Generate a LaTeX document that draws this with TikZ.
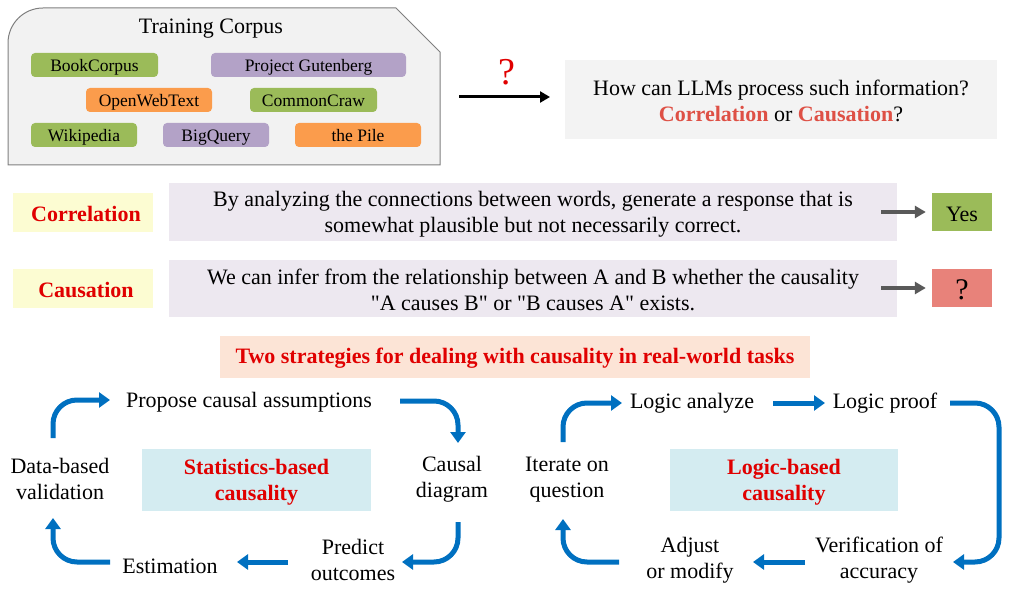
\documentclass[tikz,border=0pt]{standalone}
\usepackage{fontspec}
\setmainfont{Liberation Serif}[Ligatures=TeXOff]
\usetikzlibrary{arrows.meta,calc}
\definecolor{corpusfill}{HTML}{F2F2F2}
\definecolor{corpusdraw}{HTML}{7F7F7F}
\definecolor{cgreen}{HTML}{9BBB59}
\definecolor{cpurple}{HTML}{B3A2C7}
\definecolor{corange}{HTML}{FB9C4C}
\definecolor{qfill}{HTML}{F3F3F3}
\definecolor{qred}{HTML}{DE5045}
\definecolor{lred}{HTML}{E00000}
\definecolor{cyellow}{HTML}{FCFCD2}
\definecolor{clav}{HTML}{EDE8F0}
\definecolor{darrow}{HTML}{595959}
\definecolor{cpink}{HTML}{E8827A}
\definecolor{cpeach}{HTML}{FCE4D6}
\definecolor{ccyan}{HTML}{D4ECF1}
\definecolor{cblue}{HTML}{0070C0}
\begin{document}
\begin{tikzpicture}[x=1pt,y=-1pt,
  txt/.style={font=\fontsize{22}{26}\selectfont, align=center, inner sep=0pt},
  boldred/.style={txt, text=lred, font=\fontsize{22}{26}\selectfont\bfseries},
  chip/.style={rounded corners=4pt, inner sep=0pt, minimum height=24pt, text height=13pt, text depth=0pt, font=\fontsize{17.5}{20}\selectfont},
  flatbox/.style={inner sep=0pt, align=center, font=\fontsize{22}{26}\selectfont},
  redlabel/.style={flatbox, fill=cyellow, minimum width=140pt, minimum height=39pt},
  lavbox/.style={flatbox, fill=clav, minimum width=728pt, minimum height=57pt},
  ansbox/.style={flatbox, minimum width=60pt, minimum height=38pt},
  grayarrow/.style={draw=darrow, line width=4pt, -{Triangle[length=11pt,width=12pt]}},
  bluearrow/.style={draw=cblue, line width=5pt, rounded corners=24pt, -{Triangle[length=11pt,width=15pt]}},
  cyanbox/.style={flatbox, fill=ccyan, minimum width=229pt, minimum height=62pt}
]
\useasboundingbox (0,0) rectangle (1010,591);

% Training corpus container
\draw[fill=corpusfill, draw=corpusdraw, line width=1pt]
  (8,165) [rounded corners=35pt]-- (8,8) [sharp corners]-- (396,8) -- (440,52) -- (440,165) -- cycle;
\node[txt] (title) at (211,29) {Training Corpus};
\node[chip, fill=cgreen,  minimum width=127pt] (bc)  at (94.5,65)  {BookCorpus};
\node[chip, fill=cpurple, minimum width=195pt] (pg)  at (308.5,65) {Project Gutenberg};
\node[chip, fill=corange, minimum width=126pt] (owt) at (149,100)  {OpenWebText};
\node[chip, fill=cgreen,  minimum width=127pt] (cc)  at (313.5,100){CommonCraw};
\node[chip, fill=cgreen,  minimum width=106pt] (wk)  at (84,135)   {Wikipedia};
\node[chip, fill=cpurple, minimum width=106pt] (bq)  at (216,135)  {BigQuery};
\node[chip, fill=corange, minimum width=126pt] (pile) at (358,135) {the Pile};

% question
\node[flatbox, fill=qfill, minimum width=432pt, minimum height=79pt] (q) at (781,99.5) {};
\node[txt] (qt) at (781,100.5)
  {How can LLMs process such information?\\
   {\bfseries\color{qred}Correlation} or {\bfseries\color{qred}Causation}?};
\coordinate (qa1) at (459,97);
\coordinate (qa2) at (550,97);
\draw[line width=3pt, -{Triangle[length=10pt,width=11pt]}] (qa1) -- (qa2);
\node[inner sep=0pt, text=lred, font=\fontsize{38}{40}\selectfont] (qm) at (507,72) {?};

% correlation row
\node[redlabel] (corr) at (83,212.5) {};
\node[boldred] (corrt) at (86,214) {Correlation};
\node[lavbox] (l1) at (533,212) {};
\node[txt] (l1t) at (533,214) {By analyzing the connections between words, generate a response that is\\somewhat plausible but not necessarily correct.};
\node[ansbox, fill=cgreen] (yes) at (962,212) {};
\node[txt] (yest) at (962,214) {Yes};
\coordinate (g1) at ($(l1.east)+(-16,0)$);
\draw[grayarrow] (g1 |- yes.west) -- ($(yes.west)+(-6,0)$);

% causation row
\node[redlabel] (caus) at (83,288.5) {};
\node[boldred] (caust) at (86,290) {Causation};
\node[lavbox] (l2) at (533,288) {};
\node[txt] (l2t) at (533,290) {We can infer from the relationship between A and B whether the causality\\"A causes B" or "B causes A" exists.};
\node[ansbox, fill=cpink] (unk) at (962,288) {};
\node[txt, font=\fontsize{30}{30}\selectfont] (unkt) at (962,290) {?};
\coordinate (g2) at ($(l2.east)+(-16,0)$);
\draw[grayarrow] (g2 |- unk.west) -- ($(unk.west)+(-6,0)$);

% strategies banner
\node[flatbox, fill=cpeach, minimum width=590pt, minimum height=42pt] (two) at (515,357) {};
\node[boldred] (twot) at (515,358.5) {Two strategies for dealing with causality in real-world tasks};

% statistics cycle
\node[cyanbox] (stat) at (256.5,479.5) {};
\node[boldred] (statt) at (256.5,482) {Statistics-based\\causality};
\node[txt] (prop) at (249,402) {Propose causal assumptions};
\node[txt] (cd) at (452,479) {Causal\\diagram};
\node[txt] (po) at (353,559.5) {Predict\\outcomes};
\node[txt] (est) at (170,566) {Estimation};
\node[txt] (dv) at (60,478.5) {Data-based\\validation};

\coordinate (s1a) at (53,438);  \coordinate (s1b) at (110,400);
\coordinate (s2a) at (400,401); \coordinate (s2b) at (458,443);
\coordinate (s3a) at (458,522); \coordinate (s3b) at (402,562);
\coordinate (s4a) at (288,562); \coordinate (s4b) at (237,562);
\coordinate (s5a) at (110,562); \coordinate (s5b) at (53,518);
\draw[bluearrow] (s1a) |- (s1b);
\draw[bluearrow] (s2a) -| (s2b);
\draw[bluearrow] (s3a) |- (s3b);
\draw[bluearrow] (s4a) -- (s4b);
\draw[bluearrow] (s5a) -| (s5b);

% logic cycle
\node[cyanbox, minimum width=228pt] (logic) at (784,479.5) {};
\node[boldred] (logict) at (784,482) {Logic-based\\causality};
\node[txt] (la) at (692,403) {Logic analyze};
\node[txt] (lp) at (885,403) {Logic proof};
\node[txt] (iq) at (567,479.5) {Iterate on\\question};
\node[txt] (am) at (690,560) {Adjust\\or modify};
\node[txt] (va) at (879,560.5) {Verification of\\accuracy};

\coordinate (r1a) at (563,442); \coordinate (r1b) at (622,403);
\coordinate (r2a) at (773,403); \coordinate (r2b) at (825,403);
\coordinate (r3a) at (950,403); \coordinate (r3c) at (999,480); \coordinate (r3b) at (953,562);
\coordinate (r4a) at (805,562); \coordinate (r4b) at (753,562);
\coordinate (r5a) at (619,562); \coordinate (r5b) at (563,519);
\draw[bluearrow] (r1a) |- (r1b);
\draw[bluearrow] (r2a) -- (r2b);
\draw[bluearrow] (r3a) -| (r3c) |- (r3b);
\draw[bluearrow] (r4a) -- (r4b);
\draw[bluearrow] (r5a) -| (r5b);
\end{tikzpicture}
\end{document}
